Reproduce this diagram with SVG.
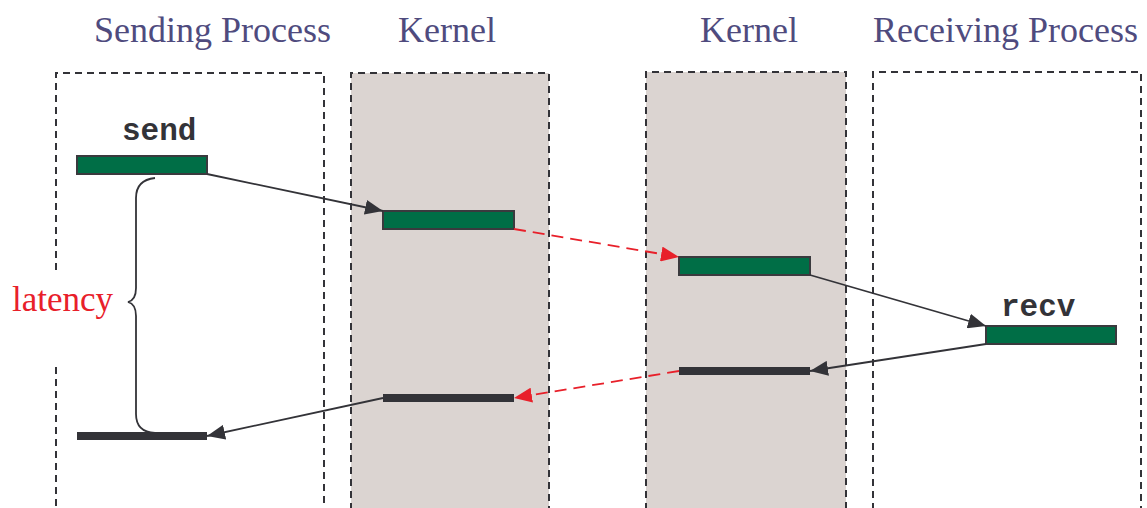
<svg xmlns="http://www.w3.org/2000/svg" width="1147" height="508" viewBox="0 0 1147 508">
  <style>
    .title { font-family: "Liberation Serif", "Times New Roman", serif; font-size: 36px; fill: #4f4b7e; }
    .lane { fill: none; stroke: #333338; stroke-width: 2; stroke-dasharray: 7 5; }
    .kernel { fill: #dbd4d1; }
    .call { fill: #006e46; stroke: #3a3a3e; stroke-width: 2; }
    .done { fill: #333338; }
    .code { font-family: "Liberation Mono", "Courier New", monospace; font-weight: bold; font-size: 31px; fill: #333338; }
    .wire { fill: none; stroke: #333338; stroke-width: 1.8; }
    .copy { fill: none; stroke: #e8202a; stroke-width: 1.8; stroke-dasharray: 12 7; }
  </style>
  <defs>
    <marker id="head" markerUnits="userSpaceOnUse" markerWidth="19" markerHeight="15" refX="18" refY="7.5" orient="auto">
      <path d="M0,0 L18,7.5 L0,15 Z" fill="#333338"/>
    </marker>
    <marker id="headRed" markerUnits="userSpaceOnUse" markerWidth="19" markerHeight="15" refX="18" refY="7.5" orient="auto">
      <path d="M0,0 L18,7.5 L0,15 Z" fill="#e8202a"/>
    </marker>
  </defs>

  <!-- lane headings -->
  <text class="title" x="94" y="42">Sending Process</text>
  <text class="title" x="398" y="42">Kernel</text>
  <text class="title" x="700" y="42">Kernel</text>
  <text class="title" x="873" y="42">Receiving Process</text>

  <!-- lanes -->
  <g id="lane-sender">
    <path class="lane" d="M56,270 V73 H324 V510"/>
    <path class="lane" d="M56,367 V510"/>
  </g>
  <g id="lane-kernel-send">
    <rect class="kernel" x="351" y="73" width="198" height="440"/>
    <path class="lane" d="M351,510 V73 H549 V510"/>
  </g>
  <g id="lane-kernel-recv">
    <rect class="kernel" x="646" y="72" width="200" height="440"/>
    <path class="lane" d="M646,510 V72 H846 V510"/>
  </g>
  <g id="lane-receiver">
    <path class="lane" d="M873,510 V72 H1141 V510"/>
  </g>

  <!-- calls and completions -->
  <g id="send-call">
    <text class="code" x="122" y="140">send</text>
    <rect class="call" x="77" y="156" width="130" height="18"/>
  </g>
  <g id="kernel-send-call">
    <rect class="call" x="383" y="211" width="131" height="18"/>
  </g>
  <g id="kernel-recv-call">
    <rect class="call" x="679" y="257" width="131" height="18"/>
  </g>
  <g id="recv-call">
    <text class="code" x="1001" y="316">recv</text>
    <rect class="call" x="986" y="326" width="130" height="18"/>
  </g>
  <g id="kernel-recv-done">
    <rect class="done" x="679" y="367" width="131" height="8"/>
  </g>
  <g id="kernel-send-done">
    <rect class="done" x="383" y="394" width="131" height="8"/>
  </g>
  <g id="send-done">
    <rect class="done" x="77" y="432" width="130" height="8"/>
  </g>

  <!-- latency brace -->
  <g id="latency">
    <path class="wire" d="M155,178 Q136,180 136,198 V288 Q136,300 128,302 Q136,304 136,316 V414 Q136,432 155,433"/>
    <text x="12" y="311" font-family="Liberation Serif, Times New Roman, serif" font-size="35" fill="#e8202a">latency</text>
  </g>

  <!-- messages -->
  <g id="connectors">
    <line class="wire" x1="207" y1="174" x2="383" y2="211" marker-end="url(#head)"/>
    <line class="copy" x1="514" y1="229" x2="679" y2="257" marker-end="url(#headRed)"/>
    <line class="wire" x1="810" y1="275" x2="986" y2="326" marker-end="url(#head)"/>
    <line class="wire" x1="986" y1="344" x2="810" y2="371" marker-end="url(#head)"/>
    <line class="copy" x1="679" y1="371" x2="514" y2="398" marker-end="url(#headRed)"/>
    <line class="wire" x1="383" y1="398" x2="207" y2="436" marker-end="url(#head)"/>
  </g>
</svg>
